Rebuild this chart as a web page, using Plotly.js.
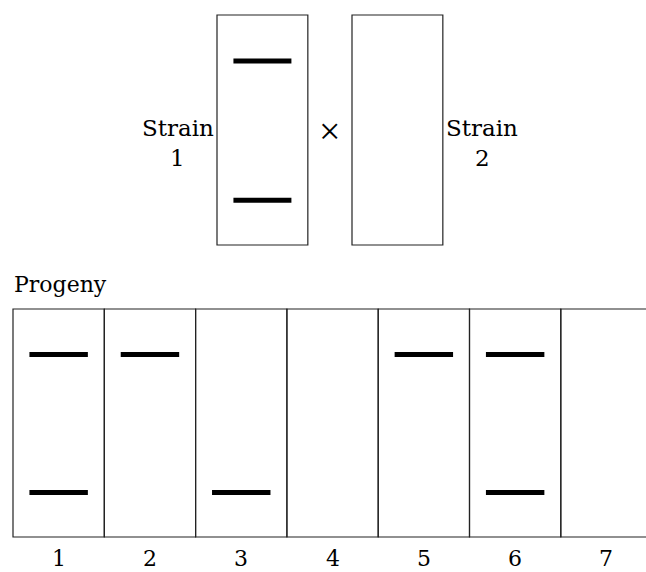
<!DOCTYPE html>
<html>
<head>
<meta charset="utf-8">
<script src="https://cdn.plot.ly/plotly-3.0.1.min.js"></script>
<style>html,body{margin:0;padding:0;background:#fff}#chart{width:646px;height:572px}</style>
</head>
<body>
<div id="chart"></div>
<script>
// ---- data ----
const progenyLanes = ['1', '2', '3', '4', '5', '6', '7'];
const progenyUpperBand = [1, 1, 0, 0, 1, 1, 0];   // 1 = band present
const progenyLowerBand = [1, 0, 1, 0, 0, 1, 0];
const parentNames = ['Strain<br>1', 'Strain<br>2'];
const parentUpperBand = [1, 0];
const parentLowerBand = [1, 0];
const sectionLabel = 'Progeny';
const crossSymbol = '×';

// ---- layout constants (lane units on x, pixel-like units on y) ----
const laneW = 91.3, leftPx = 13;
const xr = [-leftPx / laneW, (646 - leftPx) / laneW];
const progTop = 309, progBot = 537;
const parTop = 15, parBot = 245;
const upperFrac = 0.2, lowerFrac = 0.805;
const bandInset = 0.18;
const parentX = [(217 - leftPx) / laneW, (352 - leftPx) / laneW];
const parentW = 0.995;
const FONT = 'DejaVu Serif';

const shapes = [];
const traces = [];
const annotations = [];
const boxLine = {color: '#222', width: 1.2};

function addBand(x0, x1, y) {
  traces.push({x: [x0, x1], y: [y, y], mode: 'lines', type: 'scatter',
    line: {color: '#000', width: 5}, hoverinfo: 'skip', showlegend: false});
}

// progeny lanes
progenyLanes.forEach((lab, i) => {
  shapes.push({type: 'rect', xref: 'x', yref: 'y', x0: i, x1: i + 1, y0: progTop, y1: progBot, line: boxLine});
  const h = progBot - progTop;
  if (progenyUpperBand[i]) addBand(i + bandInset, i + 1 - bandInset, progTop + upperFrac * h);
  if (progenyLowerBand[i]) addBand(i + bandInset, i + 1 - bandInset, progTop + lowerFrac * h);
  annotations.push({x: i + 0.5, y: 558.5, xref: 'x', yref: 'y', text: lab, showarrow: false, borderpad: 0,
    font: {family: FONT, size: 22, color: '#000'}, xanchor: 'center', yanchor: 'middle'});
});

// parent lanes
parentNames.forEach((name, j) => {
  const x0 = parentX[j], x1 = parentX[j] + parentW;
  shapes.push({type: 'rect', xref: 'x', yref: 'y', x0: x0, x1: x1, y0: parTop, y1: parBot, line: boxLine});
  const h = parBot - parTop;
  if (parentUpperBand[j]) addBand(x0 + bandInset, x1 - bandInset, parTop + upperFrac * h);
  if (parentLowerBand[j]) addBand(x0 + bandInset, x1 - bandInset, parTop + lowerFrac * h);
  const parts = name.split('<br>');
  const lx = j === 0 ? x0 - 0.43 : x1 + 0.43;
  annotations.push({x: lx, y: 128, xref: 'x', yref: 'y', text: parts[0], showarrow: false,
    font: {family: FONT, size: 23, color: '#000'}, xanchor: 'center', yanchor: 'middle'});
  annotations.push({x: lx, y: 158, xref: 'x', yref: 'y', text: parts[1], showarrow: false,
    font: {family: FONT, size: 23, color: '#000'}, xanchor: 'center', yanchor: 'middle'});
});

annotations.push({x: (parentX[0] + parentW + parentX[1]) / 2, y: 131, xref: 'x', yref: 'y', text: crossSymbol,
  showarrow: false, font: {family: 'Liberation Serif', size: 38, color: '#000'}, xanchor: 'center', yanchor: 'middle'});
annotations.push({x: (12 - leftPx) / laneW, y: 284, xref: 'x', yref: 'y', text: sectionLabel,
  showarrow: false, font: {family: FONT, size: 22, color: '#000'}, xanchor: 'left', yanchor: 'middle'});

const layout = {
  width: 646, height: 572,
  margin: {l: 0, r: 0, t: 0, b: 0},
  paper_bgcolor: '#fff', plot_bgcolor: '#fff',
  xaxis: {range: xr, visible: false, fixedrange: true},
  yaxis: {range: [572, 0], visible: false, fixedrange: true},
  shapes: shapes, annotations: annotations, showlegend: false
};
Plotly.newPlot('chart', traces, layout, {staticPlot: true, displayModeBar: false});
</script>
</body>
</html>
